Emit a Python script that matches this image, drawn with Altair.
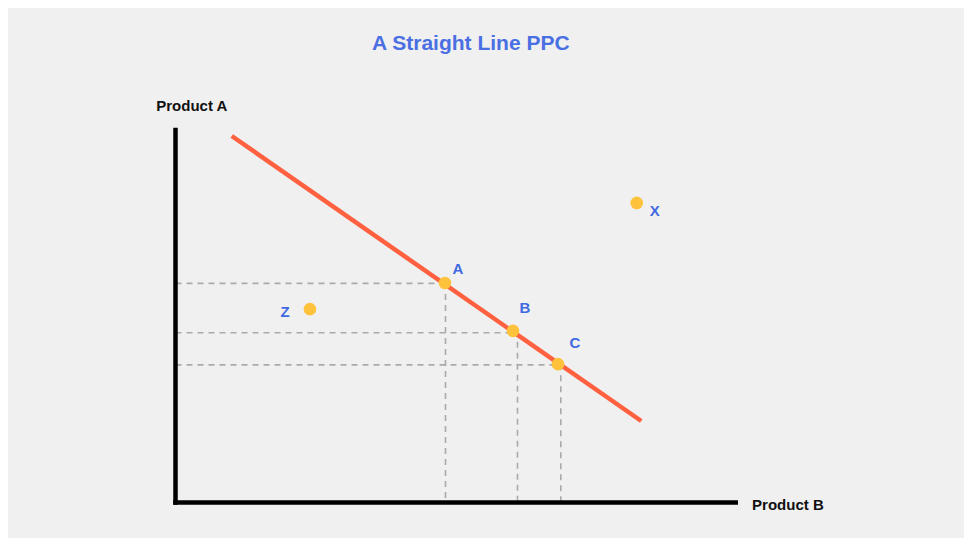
import altair as alt
import pandas as pd

# Data (in abstract units: x-axis 0..10, y-axis 0..10)
point_names = ["A", "B", "C", "X", "Z"]
point_x = [4.79, 6.00, 6.80, 8.20, 2.39]
point_y = [5.87, 4.59, 3.70, 8.01, 5.17]

label_x = [5.02, 6.21, 7.10, 8.52, 1.95]
label_y = [6.24, 5.20, 4.27, 7.79, 5.09]

ppc_x = [1.00, 8.28]
ppc_y = [9.80, 2.18]

guide_x = [4.80, 6.08, 6.85]
guide_y = [5.86, 4.54, 3.68]
guide_px = [4.79, 6.00, 6.80]   # where horizontal guides end
guide_py = [5.87, 4.59, 3.70]   # where vertical guides start

axis_names = ["x", "y"]
axis_x1 = [0, 0]
axis_y1 = [0, 0]
axis_x2 = [9.96, 0]
axis_y2 = [0, 9.96]

XD = [-2.978, 14.018]
YD = [-0.949, 13.222]

xs = alt.Scale(domain=XD, nice=False, zero=False)
ys = alt.Scale(domain=YD, nice=False, zero=False)

pts = pd.DataFrame({"name": point_names, "x": point_x, "y": point_y})
labs = pd.DataFrame({"name": point_names, "x": label_x, "y": label_y})
line_df = pd.DataFrame({"x": ppc_x, "y": ppc_y, "o": [0, 1]})
hguides = pd.DataFrame({"x": [0] * 3, "x2": guide_px, "y": guide_y, "y2": guide_y})
vguides = pd.DataFrame({"x": guide_x, "x2": guide_x, "y": guide_py, "y2": [0] * 3})
axes_df = pd.DataFrame({"n": axis_names, "x": axis_x1, "y": axis_y1, "x2": axis_x2, "y2": axis_y2})
texts = pd.DataFrame({
    "t": ["Product A", "A Straight Line PPC"],
    "x": [0.29, 5.25],
    "y": [10.60, 12.26],
})

X = lambda f="x": alt.X(f"{f}:Q", scale=xs, axis=None)
Y = lambda f="y": alt.Y(f"{f}:Q", scale=ys, axis=None)

dash = dict(color="#aaaaaa", strokeWidth=1.6, strokeDash=[6, 5])

h = alt.Chart(hguides).mark_rule(**dash).encode(x=X(), x2="x2:Q", y=Y(), y2="y2:Q")
v = alt.Chart(vguides).mark_rule(**dash).encode(x=X(), x2="x2:Q", y=Y(), y2="y2:Q")

axes = alt.Chart(axes_df).mark_rule(color="#000000", strokeWidth=4.5, strokeCap="square").encode(
    x=X(), x2="x2:Q", y=Y(), y2="y2:Q")

ppc = alt.Chart(line_df).mark_line(color="#ff6140", strokeWidth=4.5).encode(
    x=X(), y=Y(), order="o:Q")

dots = alt.Chart(pts).mark_circle(color="#ffc23d", size=160, opacity=1).encode(x=X(), y=Y())

plabels = alt.Chart(labs).mark_text(
    font="Liberation Sans", fontWeight="bold", fontSize=15, color="#4169e1"
).encode(x=X(), y=Y(), text="name:N")

prodA = alt.Chart(texts.iloc[[0]]).mark_text(
    font="Liberation Sans", fontWeight="bold", fontSize=15, color="#111111"
).encode(x=X(), y=Y(), text="t:N")

title = alt.Chart(texts.iloc[[1]]).mark_text(
    font="Liberation Sans", fontWeight="bold", fontSize=21, color="#4a6fe3"
).encode(x=X(), y=Y(), text="t:N")

prodB = alt.Chart(pd.DataFrame({"t": ["Product B"], "x": [10.25], "y": [-0.07]})).mark_text(
    font="Liberation Sans", fontWeight="bold", fontSize=15, color="#111111", align="left"
).encode(x=X(), y=Y(), text="t:N")

chart = alt.layer(h, v, axes, ppc, dots, plabels, prodA, prodB, title).properties(
    width=956, height=530, background="#f0f0f0", padding=0,
    autosize=alt.AutoSizeParams(type="none"),
).configure_view(stroke=None)

chart.save("out.html", embed_options={"renderer": "svg", "actions": False})
